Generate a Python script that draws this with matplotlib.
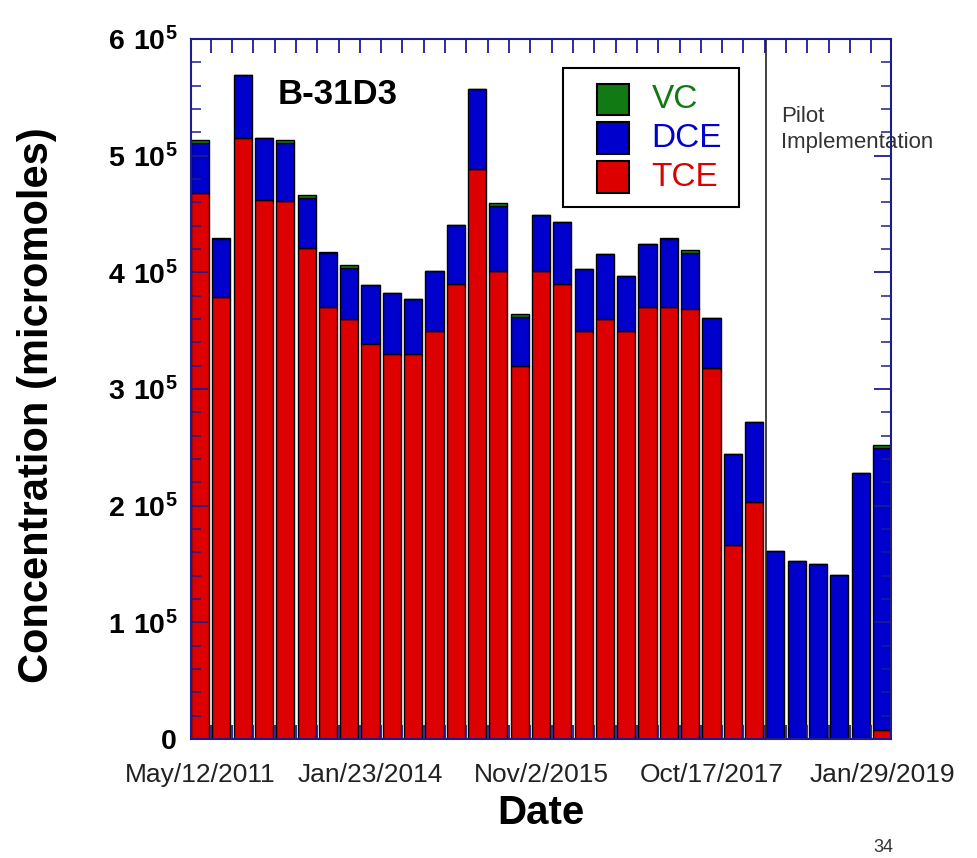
import numpy as np
import matplotlib
matplotlib.use("Agg")
import matplotlib.pyplot as plt
from matplotlib.ticker import MultipleLocator, FixedLocator, FixedFormatter
from matplotlib.patches import Rectangle

plt.rcParams['font.family'] = ['Liberation Sans', 'DejaVu Sans']
plt.rcParams['mathtext.fontset'] = 'custom'
plt.rcParams['mathtext.rm'] = 'Liberation Sans'
plt.rcParams['mathtext.bf'] = 'Liberation Sans:bold'

# sample labels shown on the x axis (every 8th sampling event)
date_labels = ['May/12/2011', 'Jan/23/2014', 'Nov/2/2015', 'Oct/17/2017', 'Jan/29/2019']
label_index = [0, 8, 16, 24, 32]

# concentrations in micromoles (x1000)
tce = [468, 379, 515, 462, 461, 421, 370, 360, 339, 330, 330, 350, 390, 489, 401, 320, 401,
       390, 350, 360, 350, 370, 370, 369, 318, 166, 203, 0, 0, 0, 0, 0, 7.7]
dce = [43, 50, 54, 53, 50, 43, 47, 44, 50, 52, 47, 51, 51, 68, 56, 42, 48,
       53, 53, 56, 47, 54, 59, 48, 43, 78, 69, 161, 153, 150, 141, 228, 242]
vc = [2, 0, 0, 0, 2, 2, 0, 2, 0, 0, 0, 0, 0, 0, 2, 2, 0,
      0, 0, 0, 0, 0, 0, 2, 0, 0, 0, 0, 0, 0, 0, 0, 2]

tce = np.array(tce) * 1000
dce = np.array(dce) * 1000
vc = np.array(vc) * 1000
x = np.arange(len(tce))

red = '#dd0000'
blue = '#0000cc'
green = '#127a12'
navy = '#1c1c8c'
W = 0.85

fig = plt.figure(figsize=(9.78, 8.58), dpi=100)
ax = fig.add_axes([191/978, 119/858, 700/978, 700/858])

ax.bar(x, tce, width=W, color=red, edgecolor='black', linewidth=1)
ax.bar(x, dce, width=W, bottom=tce, color=blue, edgecolor='black', linewidth=1)
ax.bar(x, vc, width=W, bottom=tce + dce, color=green, edgecolor='black', linewidth=1)

ax.set_xlim(-W/2, len(x) - 1 + W/2)
ax.set_ylim(0, 600000)

# pilot implementation marker
ax.axvline(26.55, color='#222222', lw=1.2)
ax.text(0.843, 0.905, 'Pilot\nImplementation', transform=ax.transAxes, fontsize=16,
        color='#333333', va='top', ha='left', linespacing=1.35, clip_on=False, zorder=2)

ax.text(0.21, 0.92, 'B-31D3', transform=ax.transAxes, fontsize=25, fontweight='bold',
        ha='center', va='center')

# legend drawn by hand to match the boxed layout
ax.add_patch(Rectangle((0.531, 0.76), 0.252, 0.199, transform=ax.transAxes,
                       facecolor='white', edgecolor='black', lw=1.5, zorder=4))
for yy, col, name in [(0.891, green, 'VC'), (0.836, blue, 'DCE'), (0.780, red, 'TCE')]:
    ax.add_patch(Rectangle((0.58, yy), 0.046, 0.045, transform=ax.transAxes,
                           facecolor=col, edgecolor='black', lw=1.5, zorder=5))
    ax.text(0.658, yy + 0.022, name, transform=ax.transAxes, color=col, fontsize=24,
            va='center', ha='left', zorder=5)

# y axis
yt = [0, 100000, 200000, 300000, 400000, 500000, 600000]
ylabs = ['0'] + [r'$\mathbf{%d\ 10^{5}}$' % (v // 100000) for v in yt[1:]]
ax.yaxis.set_major_locator(FixedLocator(yt))
ax.yaxis.set_major_formatter(FixedFormatter(ylabs))
ax.yaxis.set_minor_locator(MultipleLocator(20000))
ax.tick_params(axis='y', which='major', direction='in', length=12, width=1.3,
               color=navy, left=True, right=True, labelsize=20.5, pad=10)
ax.tick_params(axis='y', which='minor', direction='in', length=7, width=1.1,
               color=navy, left=True, right=True)
for t in ax.get_yticklabels():
    t.set_fontweight('bold')

# x axis: ticks at category boundaries, labels under selected bars
ax.xaxis.set_major_locator(FixedLocator(x[:-1] + 0.5))
ax.xaxis.set_major_formatter(FixedFormatter([''] * (len(x) - 1)))
ax.xaxis.set_minor_locator(FixedLocator(label_index))
ax.xaxis.set_minor_formatter(FixedFormatter(date_labels))
ax.tick_params(axis='x', which='major', direction='in', length=10, width=1.3,
               color=navy, top=True, bottom=True)
ax.tick_params(axis='x', which='minor', length=0, labelsize=19, pad=17,
               labelcolor='#222222')

for s in ax.spines.values():
    s.set_color(navy)
    s.set_linewidth(1.5)

fig.text(37/978, 1 - 405/858, 'Concentration (micromoles)', rotation=90, fontsize=30,
         fontweight='bold', ha='center', va='center')
fig.text(541/978, 1 - 813/858, 'Date', fontsize=29, fontweight='bold',
         ha='center', va='center')
fig.text(883/978, 1 - 848/858, '34', fontsize=13, color='#333333', ha='center', va='center')

fig.savefig('out.png', dpi=100)
